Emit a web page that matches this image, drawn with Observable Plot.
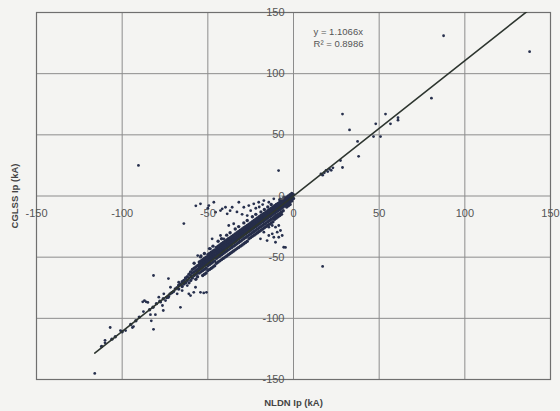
<!DOCTYPE html>
<html>
<head>
<meta charset="utf-8">
<script src="https://cdn.jsdelivr.net/npm/d3@7"></script>
<script src="https://cdn.jsdelivr.net/npm/@observablehq/plot@0.6"></script>
<style>
  html, body { margin: 0; padding: 0; background: #f4f4f2; }
  #chart { width: 560px; height: 411px; }
</style>
</head>
<body>
<div id="chart"></div>
<script>
// Axis ticks
const xTicks = [-150, -100, -50, 0, 50, 100, 150];
const yTicks = [-150, -100, -50, 0, 50, 100, 150];
const gridValues = [-100, -50, 0, 50, 100];

// Trendline (Excel linear fit through origin)
const trendSlope = 1.1066;
const trendR2 = 0.8986;
const trendRange = [-116, 140];
const xTitle = "NLDN Ip (kA)";
const yTitle = "CGLSS Ip (kA)";

// Dense band of points [NLDN Ip, CGLSS Ip]
const bandPoints = [
  [0,1],[0,-2],[-1,0],[-1,-2],[-1,-4],[-1,2],[-2,-1],[-2,-3],[-2,-5],[-2,1],[-3,-2],[-3,-4],[-3,-6],[-3,0],[-3,-8],[-4,-3],[-4,-5],[-4,-1],[-4,-7],[-5,-4],[-5,-6],[-5,-2],[-5,-8],[-4,-9],[-2,-7],
  [-6,-3],[-6,-5],[-6,-7],[-6,-9],[-6,-12],[-7,-4],[-7,-6],[-7,-8],[-7,-10],[-7,-13],[-7,-15],[-8,-5],[-8,-7],[-8,-9],[-8,-11],[-8,-14],[-8,-16],[-9,-6],[-9,-8],[-9,-10],[-9,-12],[-9,-15],[-9,-17],[-10,-7],[-10,-9],[-10,-11],[-10,-13],[-10,-16],[-10,-18],[-8,-3],
  [-11,-8],[-11,-10],[-11,-12],[-11,-14],[-11,-17],[-11,-19],[-12,-9],[-12,-11],[-12,-13],[-12,-15],[-12,-18],[-12,-21],[-13,-10],[-13,-12],[-13,-14],[-13,-16],[-13,-19],[-13,-22],[-14,-11],[-14,-13],[-14,-15],[-14,-17],[-14,-20],[-14,-23],[-15,-12],[-15,-14],[-15,-16],[-15,-18],[-15,-21],[-15,-24],[-13,-7],[-15,-9],
  [-16,-13],[-16,-15],[-16,-17],[-16,-19],[-16,-22],[-16,-25],[-17,-14],[-17,-16],[-17,-18],[-17,-20],[-17,-23],[-17,-26],[-18,-15],[-18,-17],[-18,-19],[-18,-21],[-18,-24],[-18,-27],[-19,-16],[-19,-18],[-19,-20],[-19,-22],[-19,-25],[-19,-28],[-20,-17],[-20,-19],[-20,-21],[-20,-23],[-20,-26],[-20,-29],[-17,-11],[-19,-13],
  [-21,-18],[-21,-20],[-21,-22],[-21,-24],[-21,-27],[-21,-30],[-22,-19],[-22,-21],[-22,-23],[-22,-25],[-22,-28],[-22,-31],[-23,-20],[-23,-22],[-23,-24],[-23,-26],[-23,-29],[-23,-32],[-24,-21],[-24,-23],[-24,-25],[-24,-27],[-24,-30],[-24,-33],[-25,-22],[-25,-24],[-25,-26],[-25,-28],[-25,-31],[-25,-34],[-22,-15],[-24,-17],
  [-26,-23],[-26,-25],[-26,-27],[-26,-29],[-26,-32],[-26,-35],[-27,-24],[-27,-26],[-27,-28],[-27,-30],[-27,-33],[-27,-37],[-28,-25],[-28,-27],[-28,-29],[-28,-31],[-28,-34],[-28,-38],[-29,-26],[-29,-28],[-29,-30],[-29,-32],[-29,-35],[-29,-39],[-30,-27],[-30,-29],[-30,-31],[-30,-33],[-30,-36],[-30,-40],[-27,-20],[-29,-22],
  [-31,-28],[-31,-30],[-31,-32],[-31,-34],[-31,-37],[-31,-41],[-32,-29],[-32,-31],[-32,-33],[-32,-35],[-32,-38],[-32,-42],[-33,-30],[-33,-32],[-33,-34],[-33,-36],[-33,-39],[-33,-43],[-34,-31],[-34,-33],[-34,-35],[-34,-37],[-34,-40],[-34,-44],[-35,-32],[-35,-34],[-35,-36],[-35,-38],[-35,-41],[-35,-45],[-32,-25],[-34,-27],
  [-36,-33],[-36,-35],[-36,-37],[-36,-39],[-36,-42],[-36,-46],[-37,-34],[-37,-36],[-37,-38],[-37,-40],[-37,-43],[-37,-47],[-38,-35],[-38,-37],[-38,-39],[-38,-41],[-38,-44],[-38,-48],[-39,-36],[-39,-38],[-39,-40],[-39,-42],[-39,-45],[-39,-49],[-40,-37],[-40,-39],[-40,-41],[-40,-43],[-40,-46],[-40,-50],[-37,-30],[-39,-32],
  [-41,-38],[-41,-40],[-41,-42],[-41,-44],[-41,-47],[-41,-51],[-42,-39],[-42,-41],[-42,-43],[-42,-45],[-42,-48],[-42,-52],[-43,-40],[-43,-42],[-43,-44],[-43,-46],[-43,-49],[-43,-53],[-44,-41],[-44,-43],[-44,-45],[-44,-47],[-44,-50],[-44,-54],[-45,-42],[-45,-44],[-45,-46],[-45,-48],[-45,-51],[-45,-55],[-42,-35],[-44,-37],
  [-46,-44],[-46,-46],[-46,-48],[-46,-50],[-46,-53],[-46,-57],[-47,-45],[-47,-47],[-47,-49],[-47,-51],[-47,-54],[-47,-58],[-48,-46],[-48,-48],[-48,-50],[-48,-52],[-48,-55],[-48,-59],[-49,-47],[-49,-49],[-49,-51],[-49,-53],[-49,-56],[-49,-60],[-50,-48],[-50,-50],[-50,-52],[-50,-54],[-50,-57],[-50,-61],[-47,-41],[-49,-43],
  [-51,-50],[-51,-52],[-51,-54],[-51,-56],[-51,-59],[-51,-63],[-52,-51],[-52,-53],[-52,-55],[-52,-57],[-52,-60],[-52,-64],[-53,-52],[-53,-54],[-53,-56],[-53,-58],[-53,-61],[-53,-65],[-54,-53],[-54,-55],[-54,-57],[-54,-59],[-54,-62],[-55,-54],[-55,-56],[-55,-58],[-55,-60],[-55,-63],[-52,-47],[-54,-49],
  [-56,-57],[-56,-60],[-56,-63],[-56,-66],[-57,-58],[-57,-61],[-57,-64],[-57,-68],[-58,-59],[-58,-62],[-58,-65],[-59,-60],[-59,-63],[-59,-67],[-60,-62],[-60,-65],[-60,-69],[-58,-55],
  [-61,-64],[-61,-67],[-61,-71],[-62,-66],[-62,-69],[-63,-67],[-63,-71],[-64,-69],[-64,-72],[-65,-70],[-65,-74],[-66,-72],
  [-67,-73],[-67,-76],[-68,-75],[-69,-76],[-70,-78],[-71,-79],[-72,-80],[-73,-82],[-74,-83],[-76,-84],
  [-78,-86],[-80,-88],[-82,-91],[-84,-93],[-90,-99],[-92,-102],[-95,-105],[-100,-111],[-104,-115],[-106,-117],[-112,-123]
];

// Scattered points [NLDN Ip, CGLSS Ip]
const scatterPoints = [
  [87.6,131],[137.8,118],[80.5,80],[28.6,67],[53.7,67],[61,64],[61,62],[48,59],[56.6,59],[32.7,54],[46.7,48.6],[50.8,48.6],[37.4,44.6],[38,32.4],[28.6,23.3],[27.4,29],
  [16,18],[18,19],[19,21],[20,20],[21,22],[22,21],[17,17],[23,23],[-8.7,20.8],[-90.5,25],
  [17,-57.6],[-4.7,-42],
  [-116,-145],[-107,-107.5],[-110,-120],[-81.7,-109],[-81.7,-65],[-66,-91],[-64,-22.5],[-87,-85.5],[-85,-87],[-73,-67.5],
  [-88,-86.5],[-86,-86.5],[-87.6,-94.5],[-83.5,-97],[-83,-102],[-80.6,-97],[-76.5,-89.5],[-76,-93.6],[-94,-107.5],[-93.4,-106.7],[-101,-110],[-98,-110],[-110,-118],[-74.7,-85.5],[-73,-83],
  [-67.9,-80],[-65,-77.3],[-62,-73.2],[-61.1,-80],[-60.1,-81.4],[-58.2,-78.7],[-57.2,-74.6],[-54.3,-78.7],[-52.4,-79.2],[-50.8,-78.7],[-56.2,-62.3],[-55.9,-48.7],[-60.1,-62.3],[-63,-67.5],[-67,-70.5],[-71.8,-74.6],[-70.8,-78.7],[-75.7,-80],[-78.6,-82.7],[-77.6,-86.8],
  [-54.3,-6.4],[-49.4,-7.8],[-46.5,-5.1],[-41.6,-10.5],[-39.7,-9.2],[-35.8,-9.2],[-31.9,-5.1],[-29,-9.2],[-26.1,-7.8],[-23.2,-6.4],[-20.3,-5.1],[-17.3,-3.7],[-14.4,-5.1],[-11.5,-2.3],[-7.6,-2.3],[-5.7,-1],
  [-38.7,-14.6],[-34.9,-22.7],[-37.8,-24.1],[-42.6,-32.3],[-40.7,-35],[-47.5,-35],[-48.5,-43.2],[-54.3,-50],[-45.5,-13.2],[-42.6,-11.9],
  [-16.3,-22.7],[-14.4,-25.5],[-12.4,-24.1],[-10.5,-25.5],[-8.6,-24.1],[-7.6,-28.2],[-9.5,-29.6],[-12.4,-30.9],[-14.4,-32.3],[-11.5,-33.7],[-8.6,-33.7],[-15.4,-36.4],[-5.7,-41.9],[-17.3,-29.6],[-6.6,-32.3],[-19.3,-35],[-10.5,-37.8],
  [-37,-12],[-33,-13],[-30,-15],[-27,-16],[-25,-12],[-22,-10],[-20,-9],[-18,-7],[-50,-10],[-57,-8]
];

const trendData = trendRange.map(x => ({x, y: trendSlope * x}));
const font = "'Liberation Sans', Arial, sans-serif";

const chart = Plot.plot({
  width: 560,
  height: 411,
  marginLeft: 36,
  marginRight: 10,
  marginTop: 12,
  marginBottom: 32,
  x: {domain: [-150, 150], axis: null},
  y: {domain: [-150, 150], axis: null},
  style: {background: "transparent", fontFamily: font},
  marks: [
    Plot.ruleX(gridValues, {stroke: "#8c8c8c", strokeWidth: 1}),
    Plot.ruleY(gridValues, {stroke: "#8c8c8c", strokeWidth: 1}),
    Plot.frame({stroke: "#6f6f6f", strokeWidth: 1.2}),
    Plot.dot(bandPoints, {x: d => d[0], y: d => d[1], r: 1.7, fill: "#262e4a", stroke: null}),
    Plot.dot(scatterPoints, {x: d => d[0], y: d => d[1], r: 1.4, fill: "#27304d", stroke: null}),
    Plot.line(trendData, {x: "x", y: "y", stroke: "#2d352f", strokeWidth: 1.6, clip: true}),
    Plot.text(xTicks, {x: d => d, y: 0, dy: 17, text: d => String(d), fontSize: 11, fill: "#555", textAnchor: "middle"}),
    Plot.text(yTicks, {x: 0, y: d => d, dx: -9, text: d => String(d), fontSize: 11, fill: "#555", textAnchor: "end"}),
    Plot.text([`y = ${trendSlope}x`], {x: 11.7, y: 133.7, text: d => d, fontSize: 9.5, fill: "#555", textAnchor: "start"}),
    Plot.text([`R² = ${trendR2}`], {x: 11.7, y: 124, text: d => d, fontSize: 9.5, fill: "#555", textAnchor: "start"}),
    Plot.text([xTitle], {x: 0, y: -150, dy: 23, text: d => d, fontSize: 9.5, fontWeight: "bold", fill: "#444"}),
    Plot.text([yTitle], {x: -150, y: 0, dx: -22, rotate: -90, text: d => d, fontSize: 9.5, fontWeight: "bold", fill: "#444"})
  ]
});
document.getElementById("chart").appendChild(chart);
</script>
</body>
</html>
